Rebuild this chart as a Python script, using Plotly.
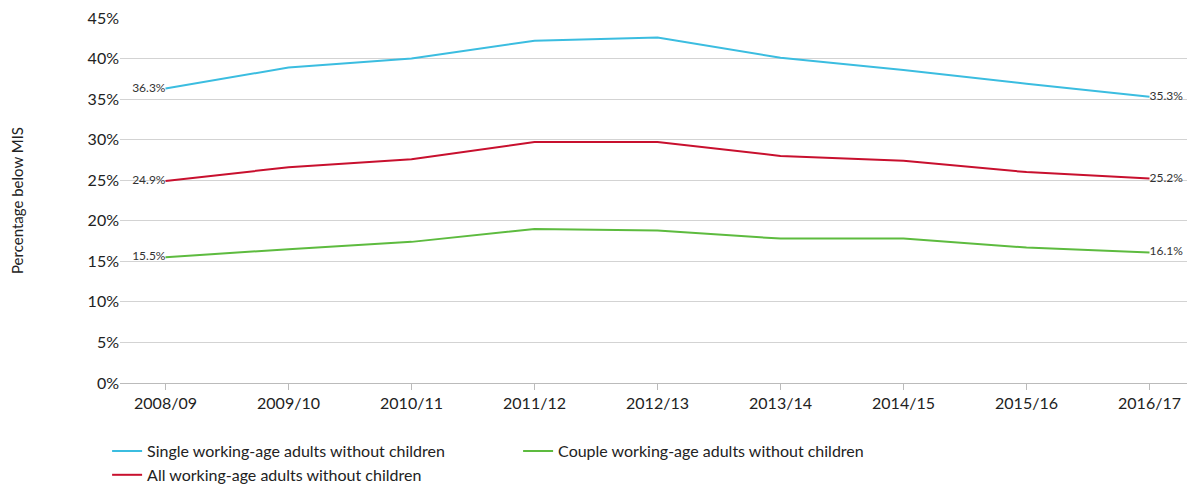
import plotly.graph_objects as go

years = ["2008/09", "2009/10", "2010/11", "2011/12", "2012/13",
         "2013/14", "2014/15", "2015/16", "2016/17"]
single = [36.3, 38.9, 40.0, 42.2, 42.6, 40.1, 38.6, 36.9, 35.3]
couple = [15.5, 16.5, 17.4, 19.0, 18.8, 17.8, 17.8, 16.7, 16.1]
all_adults = [24.9, 26.6, 27.6, 29.7, 29.7, 28.0, 27.4, 26.0, 25.2]

series = [
    ("Single working-age adults without children", single, "#3bbde0", 1),
    ("Couple working-age adults without children", couple, "#5dbb3f", 2),
    ("All working-age adults without children", all_adults, "#c8102e", 3),
]

fig = go.Figure()
for name, vals, color, rank in series:
    labels = [f"{vals[0]:.1f}%"] + [""] * (len(vals) - 2) + [f"{vals[-1]:.1f}%"]
    pos = ["middle left"] + ["middle center"] * (len(vals) - 2) + ["middle right"]
    fig.add_trace(go.Scatter(
        x=years, y=vals, name=name, mode="lines+text",
        text=labels, textposition=pos, cliponaxis=False,
        textfont=dict(size=12, color="#333333"),
        line=dict(color=color, width=2),
        legendrank=rank,
    ))

fig.update_layout(
    width=1195, height=495,
    margin=dict(l=112, r=8, t=10, b=120),
    plot_bgcolor="white", paper_bgcolor="white",
    font=dict(family="Lato", size=15, color="#222222"),
    legend=dict(orientation="h", x=-0.012, xanchor="left", y=-0.14, yanchor="top",
                entrywidth=366, entrywidthmode="pixels", traceorder="normal",
                tracegroupgap=10, font=dict(size=16)),
)
fig.update_xaxes(range=[-0.37, 8.37], showgrid=False, showline=True, automargin=False,
                 linecolor="#bbbbbb", ticks="outside", tickcolor="#bbbbbb",
                 ticklen=6, tickfont=dict(size=16))
fig.update_yaxes(range=[0, 45], dtick=5, ticksuffix="%", gridcolor="#d3d3d3",
                 zeroline=False, tickfont=dict(size=16), automargin=False,
                 ticklabeloverflow="allow",
                 title=dict(text="Percentage below MIS", font=dict(size=15), standoff=69))

fig.write_html("out.html")
